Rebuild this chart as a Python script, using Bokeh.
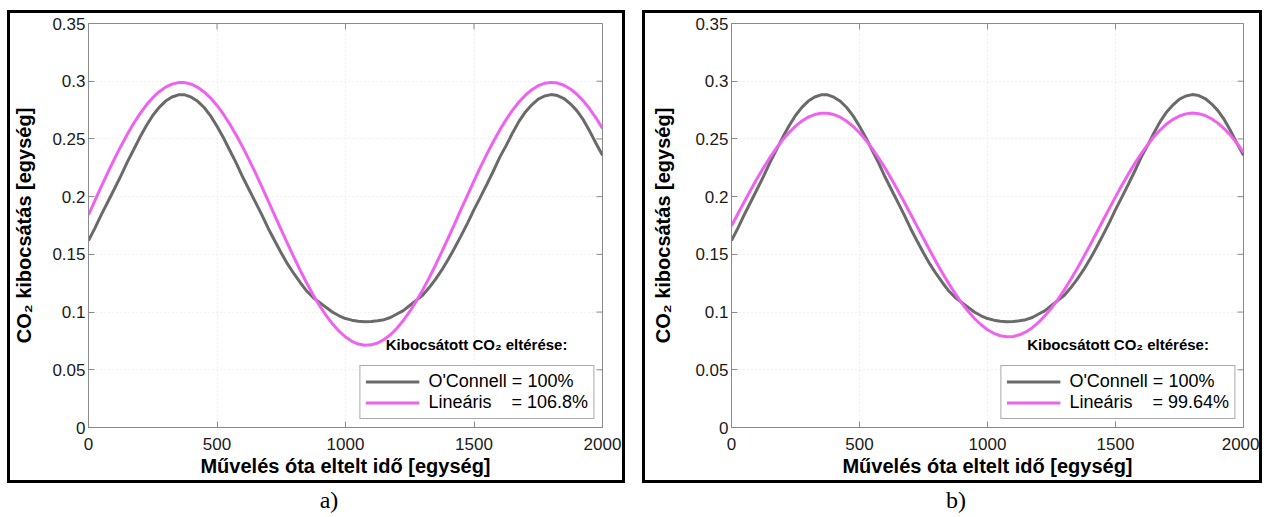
import math
from bokeh.plotting import figure
from bokeh.models import FixedTicker, Legend, LegendItem, Label, Div, Range1d
from bokeh.layouts import column, row
from bokeh.embed import file_html
from bokeh.resources import INLINE

# ---------------- data ----------------
x_vals = list(range(0, 2001, 25))

oconnell = [0.1620, 0.1727, 0.1844, 0.1954, 0.2064, 0.2175, 0.2295, 0.2404,
            0.2514, 0.2614, 0.2703, 0.2774, 0.2828, 0.2863, 0.2882, 0.2882,
            0.2862, 0.2826, 0.2772, 0.2700, 0.2610, 0.2510, 0.2400, 0.2290,
            0.2170, 0.2060, 0.1950, 0.1840, 0.1722, 0.1616, 0.1512, 0.1415,
            0.1330, 0.1252, 0.1180, 0.1124, 0.1082, 0.1040, 0.0998, 0.0968,
            0.0944, 0.0930, 0.0921, 0.0917, 0.0918, 0.0924, 0.0934, 0.0953,
            0.0983, 0.1013, 0.1057, 0.1101, 0.1146, 0.1210, 0.1284, 0.1365,
            0.1457, 0.1557, 0.1662, 0.1771, 0.1887, 0.1996, 0.2106, 0.2220,
            0.2340, 0.2442, 0.2552, 0.2652, 0.2734, 0.2796, 0.2845, 0.2872,
            0.2884, 0.2876, 0.2850, 0.2804, 0.2745, 0.2667, 0.2568, 0.2460,
            0.2358]

linear_a = [0.1841, 0.1965, 0.2088, 0.2208, 0.2323, 0.2433, 0.2536, 0.2631,
            0.2717, 0.2793, 0.2857, 0.2909, 0.2949, 0.2975, 0.2988, 0.2988,
            0.2974, 0.2947, 0.2907, 0.2854, 0.2790, 0.2714, 0.2628, 0.2532,
            0.2429, 0.2319, 0.2203, 0.2083, 0.1960, 0.1836, 0.1712, 0.1590,
            0.1471, 0.1356, 0.1247, 0.1146, 0.1053, 0.0969, 0.0896, 0.0834,
            0.0784, 0.0747, 0.0723, 0.0713, 0.0716, 0.0732, 0.0762, 0.0804,
            0.0860, 0.0927, 0.1005, 0.1093, 0.1190, 0.1294, 0.1406, 0.1523,
            0.1643, 0.1767, 0.1891, 0.2014, 0.2136, 0.2255, 0.2368, 0.2476,
            0.2576, 0.2667, 0.2749, 0.2820, 0.2879, 0.2926, 0.2961, 0.2982,
            0.2990, 0.2984, 0.2965, 0.2933, 0.2887, 0.2830, 0.2761, 0.2681,
            0.2591]

linear_b = [0.1747, 0.1852, 0.1956, 0.2058, 0.2157, 0.2250, 0.2338, 0.2419,
            0.2492, 0.2556, 0.2611, 0.2655, 0.2689, 0.2711, 0.2723, 0.2722,
            0.2711, 0.2688, 0.2653, 0.2609, 0.2554, 0.2489, 0.2416, 0.2335,
            0.2247, 0.2153, 0.2054, 0.1952, 0.1848, 0.1742, 0.1637, 0.1533,
            0.1432, 0.1334, 0.1242, 0.1155, 0.1076, 0.1004, 0.0942, 0.0890,
            0.0847, 0.0816, 0.0795, 0.0786, 0.0789, 0.0803, 0.0828, 0.0865,
            0.0912, 0.0969, 0.1035, 0.1110, 0.1192, 0.1282, 0.1376, 0.1476,
            0.1578, 0.1683, 0.1789, 0.1894, 0.1998, 0.2098, 0.2195, 0.2286,
            0.2371, 0.2449, 0.2519, 0.2579, 0.2630, 0.2670, 0.2699, 0.2717,
            0.2724, 0.2719, 0.2703, 0.2675, 0.2637, 0.2588, 0.2529, 0.2461,
            0.2384]

x_ticks = [0, 500, 1000, 1500, 2000]
x_tick_labels = ["0", "500", "1000", "1500", "2000"]
y_ticks = [0, 0.05, 0.1, 0.15, 0.2, 0.25, 0.3, 0.35]
y_tick_labels = ["0", "0.05", "0.1", "0.15", "0.2", "0.25", "0.3", "0.35"]

legend_a = ["O'Connell = 100%", "Lineáris\u00a0\u00a0\u00a0\u00a0= 106.8%"]
legend_b = ["O'Connell = 100%", "Lineáris\u00a0\u00a0\u00a0\u00a0= 99.64%"]
legend_title = "Kibocsátott CO\u2082 eltérése:"
x_label = "Művelés óta eltelt idő [egység]"
y_label = "CO\u2082 kibocsátás [egység]"
panel_labels = ["a)", "b)"]

GRAY = "#6a6a6a"
PINK = "#ef62ef"
AXIS = "#8a8a8a"
FONT = "Liberation Sans"
X_MAX = 2000
Y_MAX = 0.35


def make_panel(lin, legend_texts, width, left, right, ylab_standoff):
    p = figure(width=width, height=467, x_range=Range1d(0, X_MAX),
               y_range=Range1d(0, Y_MAX), output_backend="svg",
               toolbar_location=None, min_border_left=left,
               min_border_right=right, min_border_top=10,
               min_border_bottom=53)
    p.background_fill_color = "white"
    p.border_fill_color = "white"
    p.outline_line_color = AXIS
    p.outline_line_width = 1

    xa = p.xaxis[0]
    ya = p.yaxis[0]
    xa.ticker = FixedTicker(ticks=x_ticks)
    xa.major_label_overrides = dict(zip(x_ticks, x_tick_labels))
    xa.axis_label = x_label
    ya.ticker = FixedTicker(ticks=y_ticks)
    ya.major_label_overrides = dict(zip(y_ticks, y_tick_labels))
    ya.axis_label = y_label
    for ax in (xa, ya):
        ax.axis_line_color = AXIS
        ax.major_tick_line_color = AXIS
        ax.major_tick_in = 6
        ax.major_tick_out = 0
        ax.minor_tick_line_color = None
        ax.major_label_text_font = FONT
        ax.major_label_text_font_size = "17px"
        ax.major_label_text_color = "#1a1a1a"
        ax.axis_label_text_font = FONT
        ax.axis_label_text_font_size = "20px"
        ax.axis_label_text_font_style = "bold"
        ax.axis_label_text_color = "black"
    xa.major_label_standoff = 10
    xa.axis_label_standoff = 2
    ya.major_label_standoff = 3
    ya.axis_label_standoff = ylab_standoff

    # inward tick marks on the top and right edges of the box
    p.ray(x=x_ticks, y=[Y_MAX] * len(x_ticks), length=6,
          length_units="screen", angle=-math.pi / 2, line_color=AXIS,
          line_width=1)
    p.ray(x=[X_MAX] * len(y_ticks), y=y_ticks, length=6,
          length_units="screen", angle=math.pi, line_color=AXIS,
          line_width=1)

    p.xgrid.ticker = FixedTicker(ticks=x_ticks)
    p.ygrid.ticker = FixedTicker(ticks=y_ticks)
    p.grid.grid_line_color = "#e0e0e0"
    p.grid.grid_line_dash = "1 3"
    p.grid.grid_line_width = 1

    r1 = p.line(x_vals, oconnell, line_color=GRAY, line_width=3)
    r2 = p.line(x_vals, lin, line_color=PINK, line_width=3)

    leg = Legend(items=[LegendItem(label=legend_texts[0], renderers=[r1]),
                        LegendItem(label=legend_texts[1], renderers=[r2])],
                 location="bottom_right", margin=8, padding=5, spacing=0,
                 glyph_width=54, glyph_height=19, label_standoff=9,
                 label_height=19, label_text_font=FONT,
                 label_text_font_size="18px", label_text_color="black",
                 border_line_color="#555555", border_line_width=1,
                 background_fill_color="white", background_fill_alpha=1)
    p.add_layout(leg, "center")

    p.add_layout(Label(x=1510, y=0.072, text=legend_title, text_font=FONT,
                       text_font_size="15px", text_font_style="bold",
                       text_align="center", text_baseline="middle",
                       text_color="black"))
    return p


# left box: outer 618 px wide, right box: outer 620 px wide (3 px borders)
p1 = make_panel(linear_a, legend_a, 612, 78, 20, 14)
p2 = make_panel(linear_b, legend_b, 614, 86, 16, 18)

box_style = {"border": "3px solid black"}
b1 = column(p1, styles=box_style)
b2 = column(p2, styles=box_style)

div_style = {"text-align": "center", "font-family": "Liberation Serif",
             "font-size": "24px", "line-height": "24px", "color": "black",
             "width": "100%"}
d1 = Div(text=panel_labels[0], width=634, height=24, styles=div_style)
d2 = Div(text=panel_labels[1], width=600, height=24, styles=div_style)

layout = column(row(b1, b2, spacing=17), row(d1, d2, spacing=0), spacing=0,
                margin=(10, 0, 0, 7))

open("out.html", "w").write(file_html(layout, INLINE))
